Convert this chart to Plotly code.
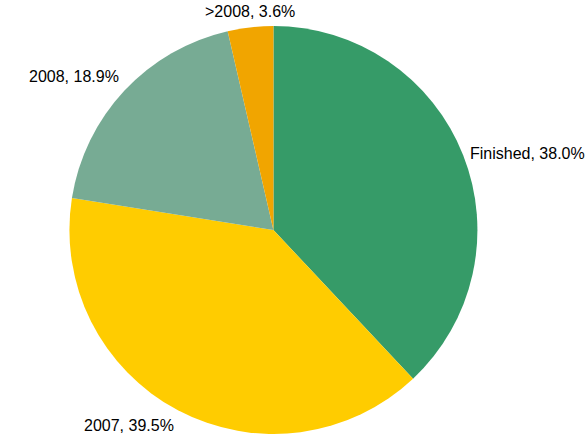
import math
import plotly.graph_objects as go

# Share of items by completion year
categories = ["Finished", "2007", "2008", ">2008"]
shares = [38.0, 39.5, 18.9, 3.6]
colors = ["#369B68", "#FFCC00", "#77AB94", "#F1A500"]

W, H = 588, 434
margin = dict(l=0, r=0, t=26, b=0)
dom_x = [0.1, 0.83]
dom_y = [0.0, 1.0]

fig = go.Figure(
    go.Pie(
        labels=categories,
        values=shares,
        sort=False,
        direction="clockwise",
        rotation=0,
        marker=dict(colors=colors, line=dict(width=0)),
        textinfo="none",
        automargin=False,
        showlegend=False,
        hoverinfo="label+percent",
        domain=dict(x=dom_x, y=dom_y),
    )
)

# Pie geometry in pixels (plot area -> domain -> circle)
pw = W - margin["l"] - margin["r"]
ph = H - margin["t"] - margin["b"]
cx = margin["l"] + pw * (dom_x[0] + dom_x[1]) / 2
cy = margin["t"] + ph * (1 - (dom_y[0] + dom_y[1]) / 2)
radius = min(pw * (dom_x[1] - dom_x[0]), ph * (dom_y[1] - dom_y[0])) / 2
label_r = radius + 5

# Place "label, pct%" just outside the middle of each slice
total = sum(shares)
start = 0.0
for name, val in zip(categories, shares):
    mid = (start + val / 2) / total * 2 * math.pi
    start += val
    s, c = math.sin(mid), math.cos(mid)
    px = cx + label_r * s
    py = cy - label_r * c
    xanchor = "left" if s > 0.3 else ("right" if s < -0.3 else "center")
    yanchor = "bottom" if c > 0.5 else ("top" if c < -0.5 else "middle")
    fig.add_annotation(
        x=(px - margin["l"]) / pw,
        y=(H - margin["b"] - py) / ph,
        xref="paper",
        yref="paper",
        text=f"{name}, {val / total * 100:.1f}%",
        showarrow=False,
        xanchor=xanchor,
        yanchor=yanchor,
        font=dict(family="Liberation Sans, Arial, sans-serif", size=16, color="#000000"),
    )

fig.update_layout(
    width=W,
    height=H,
    margin=dict(**margin, autoexpand=False),
    paper_bgcolor="white",
    plot_bgcolor="white",
)

fig.write_html("out.html")
